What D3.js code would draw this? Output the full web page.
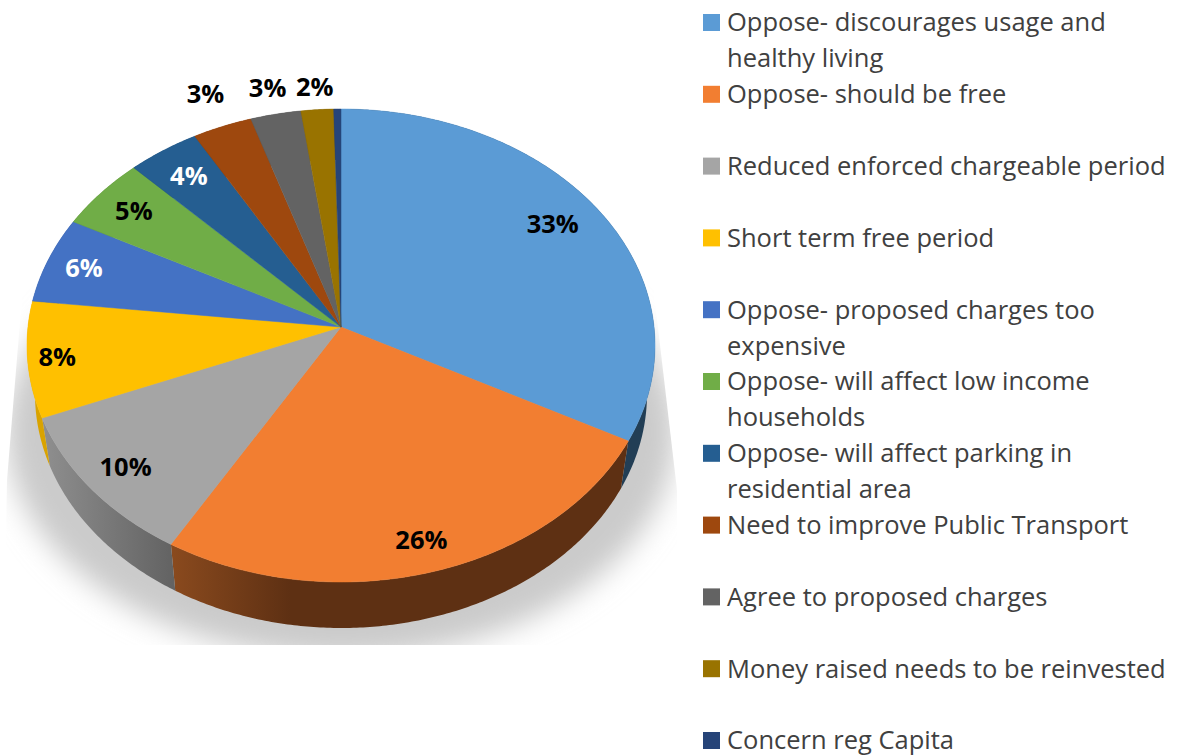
<!DOCTYPE html>
<html>
<head>
<meta charset="utf-8">
<script src="https://cdn.jsdelivr.net/npm/d3@7/dist/d3.min.js"></script>
<style>
html,body{margin:0;padding:0;background:#fff;overflow:hidden}
svg{display:block}
text{font-family:"Open Sans",sans-serif}
</style>
</head>
<body>
<svg id="chart" width="1177" height="756"></svg>
<script>
const categories = [
  "Oppose- discourages usage and healthy living",
  "Oppose- should be free",
  "Reduced enforced chargeable period",
  "Short term free period",
  "Oppose- proposed charges too expensive",
  "Oppose- will affect low income households",
  "Oppose- will affect parking in residential area",
  "Need to improve Public Transport",
  "Agree to proposed charges",
  "Money raised needs to be reinvested",
  "Concern reg Capita"
];
const values = [32.7, 25.7, 10.4, 7.9, 5.9, 5.0, 4.0, 3.3, 2.8, 1.8, 0.4];
const topColors = ["#5B9BD5","#F27E31","#A5A5A5","#FFC000","#4472C4","#70AD47","#255E91","#9E480E","#636363","#997300","#264478"];
const wallStart = ["#234057","#8A4A1E","#8E8E8E","#D9A300","#2E4A80","#4A7330","#173C5E","#652E09","#404040","#624A00","#172B4D"];
const wallEnd   = ["#223E55","#5E3013","#636363","#C79600","#2E4A80","#4A7330","#173C5E","#652E09","#404040","#624A00","#172B4D"];
const labelColors = ["#000","#000","#000","#000","#fff","#000","#fff","#000","#000","#000",null];
const labelRadius = [0.835,0.878,0.869,0.906,0.876,0.858,0.848,1.173,1.134,1.113,0];
const labelTurnDeg = [-1.9,0,0,0,0,0,0,0.4,0,0,0];

const svg = d3.select("#chart");
const defs = svg.append("defs");

const perspective = -0.078;
const topX = d3.scaleLinear([-1,1],[27,655]);
const topY = d3.scaleLinear([-1,1],[109,582]);
const botX = d3.scaleLinear([-1,1],[35,647]);
const botY = d3.scaleLinear([-1,1],[160,628]);

function disk(theta, r){
  const u = r*Math.sin(theta), v = -r*Math.cos(theta), t = perspective;
  const w = 1 + t*v;
  return [u*Math.sqrt(1-t*t)/w, (v+t)/w];
}
const toTop = (th,r=1)=>{const p=disk(th,r);return [topX(p[0]),topY(p[1])];};
const toBot = (th,r=1)=>{const p=disk(th,r);return [botX(p[0]),botY(p[1])];};

const arcs = d3.pie().sort(null).value(d=>d)(values);
const line = d3.line();
const sweep = a => {
  const n = Math.max(2, Math.ceil((a.endAngle-a.startAngle)/0.01));
  return d3.range(n+1).map(i=>a.startAngle+(a.endAngle-a.startAngle)*i/n);
};

// shadow
defs.append("filter").attr("id","soft").attr("x","-20%").attr("y","-20%").attr("width","140%").attr("height","140%")
  .append("feGaussianBlur").attr("stdDeviation",14);
defs.append("clipPath").attr("id","shadowClip").append("path")
  .attr("d",line([[23,285],[653,285],[677,490],[677,645],[4,645],[7,480]])+"Z");
svg.append("g").attr("clip-path","url(#shadowClip)")
  .append("ellipse").attr("cx",341).attr("cy",432).attr("rx",335).attr("ry",226)
  .attr("fill","#cbcbcb").attr("filter","url(#soft)");

// side walls
arcs.forEach((a,i)=>{
  const g = defs.append("linearGradient").attr("id","wall"+i).attr("gradientUnits","userSpaceOnUse")
    .attr("x1", i===1?172:45).attr("x2", i===1?290:172).attr("y1",0).attr("y2",0);
  g.append("stop").attr("offset",0).attr("stop-color",wallStart[i]);
  g.append("stop").attr("offset",1).attr("stop-color",wallEnd[i]);
});
svg.append("g").selectAll("path").data(arcs).join("path")
  .attr("d",a=>{
    const th = sweep(a);
    return line(th.map(t=>toTop(t)).concat(th.slice().reverse().map(t=>toBot(t))))+"Z";
  })
  .attr("fill",(a,i)=>`url(#wall${i})`);

// top faces
svg.append("g").selectAll("path").data(arcs).join("path")
  .attr("d",a=>line([toTop(0,0)].concat(sweep(a).map(t=>toTop(t))))+"Z")
  .attr("fill",(a,i)=>topColors[i])
  .attr("stroke",(a,i)=>topColors[i]).attr("stroke-width",0.5);

// value labels
svg.append("g").selectAll("text").data(arcs.filter((a,i)=>labelColors[i])).join("text")
  .attr("transform",a=>{
    const mid = (a.startAngle+a.endAngle)/2 + labelTurnDeg[a.index]*Math.PI/180;
    const p = toTop(mid, labelRadius[a.index]);
    return `translate(${p[0]},${p[1]})`;
  })
  .attr("text-anchor","middle").attr("dy","0.36em")
  .attr("font-size",25.5).attr("font-weight",700)
  .attr("fill",a=>labelColors[a.index])
  .text(a=>Math.round(a.data)+"%");

// legend
const legendY = d3.scalePoint().domain(categories).range([22,740]);
const maxW = 445, lineH = 35.9;
const rows = svg.append("g").selectAll("g").data(categories).join("g");
rows.append("rect").attr("x",703).attr("y",d=>legendY(d)-8).attr("width",17).attr("height",17)
  .attr("fill",(d,i)=>topColors[i]);
rows.each(function(d){
  const g = d3.select(this);
  const t = g.append("text").attr("x",727).attr("y",legendY(d)+1).attr("dy","0.33em")
    .attr("font-size",25.5).attr("fill","#404040");
  const words = d.split(" ");
  let cur = [], ts = t.append("tspan").attr("x",727);
  words.forEach(w=>{
    cur.push(w); ts.text(cur.join(" "));
    if(ts.node().getComputedTextLength()>maxW && cur.length>1){
      cur.pop(); ts.text(cur.join(" ")); cur=[w];
      ts = t.append("tspan").attr("x",727).attr("dy",lineH).text(w);
    }
  });
});
</script>
</body>
</html>
